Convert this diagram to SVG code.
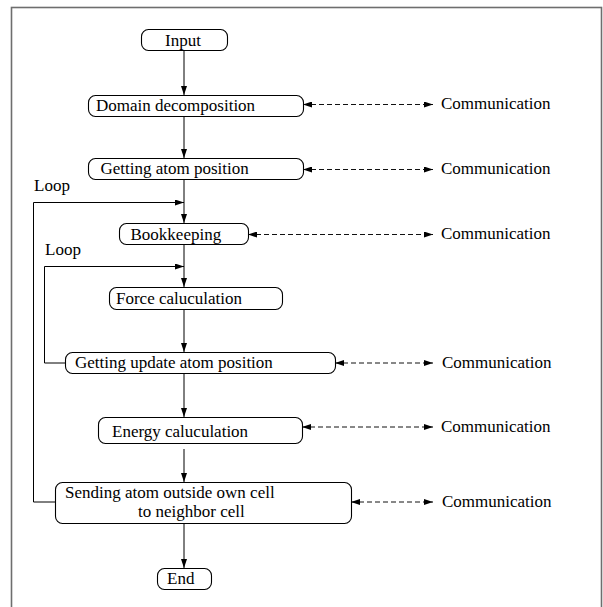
<svg xmlns="http://www.w3.org/2000/svg" width="603" height="607" viewBox="0 0 603 607">
<defs>
<style>
.frame{fill:none;stroke:#6e6e6e;stroke-width:1.6}
.box{fill:#fff;stroke:#000;stroke-width:1.1}
.t{font-family:"Liberation Serif","Times New Roman",serif;font-size:17px;fill:#000}
.line{fill:none;stroke:#000;stroke-width:1}
.dash{fill:none;stroke:#111;stroke-width:1;stroke-dasharray:5 3}
</style>
<marker id="arr" viewBox="0 0 9 6" refX="9" refY="3" markerWidth="9" markerHeight="6" markerUnits="userSpaceOnUse" orient="auto-start-reverse">
<path d="M0,0 L9,3 L0,6 z" fill="#000"/>
</marker>
</defs>
<rect width="603" height="607" fill="#fff"/>
<rect class="frame" x="11.5" y="7.5" width="590" height="620"/>

<g id="connectors">
<path class="line" d="M184 50 V95" marker-end="url(#arr)"/>
<path class="line" d="M184 116 V158" marker-end="url(#arr)"/>
<path class="line" d="M184 179 V223" marker-end="url(#arr)"/>
<path class="line" d="M184 244 V287" marker-end="url(#arr)"/>
<path class="line" d="M184 309 V352" marker-end="url(#arr)"/>
<path class="line" d="M184 373 V417" marker-end="url(#arr)"/>
<path class="line" d="M184 449 V482" marker-end="url(#arr)"/>
<path class="line" d="M184 523 V568" marker-end="url(#arr)"/>
<path class="line" d="M55 502 H33.5 V202.5 H184" marker-end="url(#arr)"/>
<path class="line" d="M65 363 H44.5 V266.5 H184" marker-end="url(#arr)"/>
<path class="dash" d="M303 104.5 H433" marker-start="url(#arr)" marker-end="url(#arr)"/>
<path class="dash" d="M303 169.5 H433" marker-start="url(#arr)" marker-end="url(#arr)"/>
<path class="dash" d="M248 234.5 H433" marker-start="url(#arr)" marker-end="url(#arr)"/>
<path class="dash" d="M335 363 H433" marker-start="url(#arr)" marker-end="url(#arr)"/>
<path class="dash" d="M302 427 H433" marker-start="url(#arr)" marker-end="url(#arr)"/>
<path class="dash" d="M351 502 H433" marker-start="url(#arr)" marker-end="url(#arr)"/>
</g>

<g id="n-input"><rect class="box" x="141.5" y="29.5" width="86" height="21" rx="7"/><text class="t" x="165" y="45.5">Input</text></g>
<g id="n-domain"><rect class="box" x="88.5" y="95.5" width="215" height="21" rx="7"/><text class="t" x="96" y="111">Domain decomposition</text></g>
<g id="n-getpos"><rect class="box" x="88.5" y="158.5" width="215" height="21" rx="7"/><text class="t" x="100.5" y="174">Getting atom position</text></g>
<g id="n-book"><rect class="box" x="119.5" y="223.5" width="129" height="21" rx="7"/><text class="t" x="130.5" y="239.5">Bookkeeping</text></g>
<g id="n-force"><rect class="box" x="109.5" y="287.5" width="173" height="22" rx="7"/><text class="t" x="116" y="303.5">Force caluculation</text></g>
<g id="n-update"><rect class="box" x="65.5" y="352.5" width="270" height="21" rx="7"/><text class="t" x="75" y="368">Getting update atom position</text></g>
<g id="n-energy"><rect class="box" x="98.5" y="417.5" width="204" height="26" rx="7"/><text class="t" x="112" y="436.5">Energy caluculation</text></g>
<g id="n-send"><rect class="box" x="55.5" y="482.5" width="296" height="41" rx="7"/><text class="t" x="65" y="498">Sending atom outside own cell</text><text class="t" x="138" y="517">to neighbor cell</text></g>
<g id="n-end"><rect class="box" x="157.5" y="568.5" width="54" height="21" rx="7"/><text class="t" x="167" y="584">End</text></g>

<g id="labels">
<text class="t" x="34" y="191">Loop</text>
<text class="t" x="45" y="255">Loop</text>
<text class="t" x="441" y="109">Communication</text>
<text class="t" x="441" y="174">Communication</text>
<text class="t" x="441" y="239">Communication</text>
<text class="t" x="442" y="367.5">Communication</text>
<text class="t" x="441" y="431.5">Communication</text>
<text class="t" x="442" y="506.5">Communication</text>
</g>
</svg>
